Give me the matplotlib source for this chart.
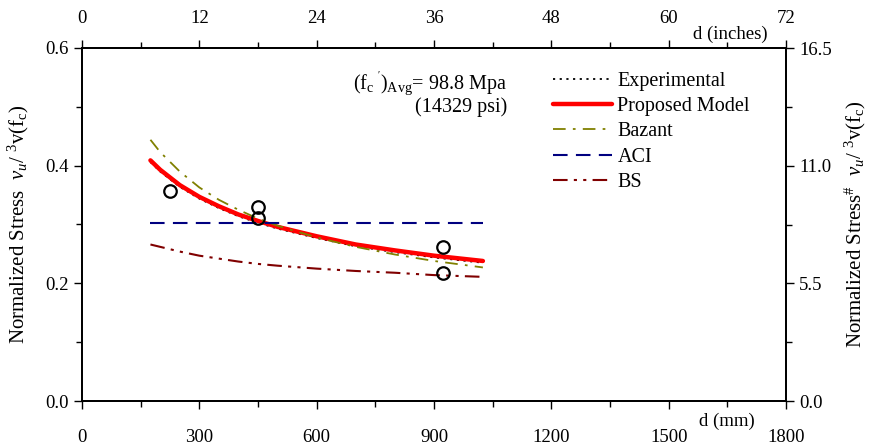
import numpy as np
import matplotlib
matplotlib.use("Agg")
import matplotlib.pyplot as plt
from matplotlib.ticker import MultipleLocator, FormatStrFormatter

plt.rcParams['font.family'] = ['Liberation Serif', 'DejaVu Serif']
plt.rcParams['mathtext.fontset'] = 'custom'
plt.rcParams['mathtext.rm'] = 'Liberation Serif'
plt.rcParams['mathtext.it'] = 'Liberation Serif:italic'
plt.rcParams['mathtext.bf'] = 'Liberation Serif:bold'

# ---- data ----
d_mm = [175, 200, 250, 300, 350, 400, 450, 500, 600, 700, 800, 900, 1025]
proposed = [0.409, 0.393, 0.367, 0.347, 0.331, 0.317, 0.306, 0.296, 0.280, 0.266, 0.256, 0.247, 0.238]
experimental = [0.406, 0.390, 0.364, 0.344, 0.328, 0.314, 0.303, 0.293, 0.277, 0.263, 0.253, 0.244, 0.235]
bazant = [0.444, 0.423, 0.390, 0.363, 0.342, 0.325, 0.310, 0.298, 0.278, 0.262, 0.249, 0.238, 0.227]
aci = [0.303, 0.303, 0.303, 0.303, 0.303, 0.303, 0.303, 0.303, 0.303, 0.303, 0.303, 0.303, 0.303]
bs = [0.266, 0.262, 0.254, 0.247, 0.242, 0.237, 0.233, 0.230, 0.225, 0.221, 0.218, 0.214, 0.211]

exp_d = [225, 450, 450, 922, 922]
exp_v = [0.357, 0.329, 0.311, 0.261, 0.218]

x_ticks = [0, 300, 600, 900, 1200, 1500, 1800]
top_ticks = [0, 12, 24, 36, 48, 60, 72]
left_ticks = [0.0, 0.2, 0.4, 0.6]
right_ticks = [0.0, 5.5, 11.0, 16.5]

fs_tick = 13.5
fs = 14.5

fig = plt.figure(figsize=(8.72, 4.47), dpi=100)
ax = fig.add_axes([82/872, 1-401/447, 704/872, 353/447])

ax.plot(d_mm, experimental, color='black', linestyle=(0, (1.2, 2.5)), linewidth=1.3, label='Experimental')
ax.plot(d_mm, proposed, color='#ff0000', linewidth=3.2, label='Proposed Model', solid_capstyle='round')
ax.plot(d_mm, bazant, color='#808000', linestyle=(0, (7, 4, 1.5, 4)), linewidth=1.3, label='Bazant')
ax.plot(d_mm, aci, color='#000080', linestyle=(0, (7, 4)), linewidth=1.5, label='ACI')
ax.plot(d_mm, bs, color='#800000', linestyle=(0, (7, 3, 1.5, 3, 1.5, 3)), linewidth=1.5, label='BS')
ax.plot(exp_d, exp_v, linestyle='none', marker='o', markersize=9, markerfacecolor='none',
        markeredgecolor='black', markeredgewidth=1.6)

ax.set_xlim(0, 1800)
ax.set_ylim(0, 0.6)
ax.set_xticks(x_ticks)
ax.xaxis.set_minor_locator(MultipleLocator(150))
ax.set_yticks(left_ticks)
ax.yaxis.set_minor_locator(MultipleLocator(0.1))
ax.yaxis.set_major_formatter(FormatStrFormatter('%.1f'))
ax.tick_params(which='both', direction='out', labelsize=fs_tick, width=1)
ax.tick_params(which='major', length=6)
ax.tick_params(which='minor', length=4)
ax.tick_params(axis='x', pad=14)

axr = ax.twinx()
axr.set_ylim(0, 16.5)
axr.set_yticks(right_ticks)
axr.yaxis.set_minor_locator(MultipleLocator(2.75))
axr.yaxis.set_major_formatter(FormatStrFormatter('%.1f'))
axr.tick_params(which='both', direction='out', labelsize=fs_tick, width=1)
axr.tick_params(which='major', length=6)
axr.tick_params(which='minor', length=4)

axt = ax.twiny()
axt.set_xlim(0, 72)
axt.set_xticks(top_ticks)
axt.xaxis.set_minor_locator(MultipleLocator(6))
axt.tick_params(which='both', direction='out', labelsize=fs_tick, width=1, pad=9)
axt.tick_params(which='major', length=6)
axt.tick_params(which='minor', length=4)

for a in (ax, axr, axt):
    for s in a.spines.values():
        s.set_linewidth(1.2)

ax.set_ylabel(r'Normalized Stress  $v_u$/ $^3$v(f$_\mathrm{c}$)', fontsize=15, labelpad=10)
axr.set_ylabel(r'Normalized Stress$^{\#}$  $v_u$/ $^3$v(f$_\mathrm{c}$)', fontsize=15, labelpad=8)

ax.text(0.956, -0.057, 'd (mm)', transform=ax.transAxes, ha='right', va='center', fontsize=fs_tick)
ax.text(0.974, 1.04, 'd (inches)', transform=ax.transAxes, ha='right', va='center', fontsize=fs_tick)

ax.text(0.604, 0.898, r"(f$_\mathrm{c}$$^{\ '}$)$_\mathrm{Avg}$= 98.8 Mpa", transform=ax.transAxes,
        ha='right', va='center', fontsize=fs)
ax.text(0.604, 0.833, '(14329 psi)', transform=ax.transAxes, ha='right', va='center', fontsize=fs)

leg = ax.legend(loc='upper left', bbox_to_anchor=(0.669, 0.933), frameon=False, fontsize=fs,
                handlelength=2.95, handletextpad=0.25, labelspacing=0.31, borderaxespad=0,
                borderpad=0)

fig.savefig('out.png', dpi=100)
